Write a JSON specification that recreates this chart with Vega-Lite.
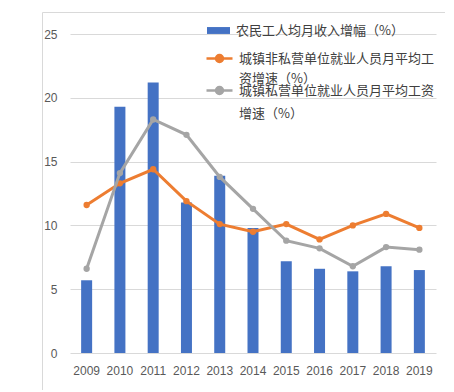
{
  "$schema": "https://vega.github.io/schema/vega-lite/v6.json",
  "width": 403,
  "height": 378,
  "autosize": "none",
  "padding": {"left": 42, "top": 12, "right": 0, "bottom": 0},
  "background": "white",
  "config": {"view": {"stroke": "#d9d9d9", "strokeWidth": 1}, "font": "Liberation Sans"},
  "data": {"values": [
    {"year": "2009", "series": "农民工人均月收入增幅（%）", "value": 5.7},
    {"year": "2010", "series": "农民工人均月收入增幅（%）", "value": 19.3},
    {"year": "2011", "series": "农民工人均月收入增幅（%）", "value": 21.2},
    {"year": "2012", "series": "农民工人均月收入增幅（%）", "value": 11.8},
    {"year": "2013", "series": "农民工人均月收入增幅（%）", "value": 13.9},
    {"year": "2014", "series": "农民工人均月收入增幅（%）", "value": 9.8},
    {"year": "2015", "series": "农民工人均月收入增幅（%）", "value": 7.2},
    {"year": "2016", "series": "农民工人均月收入增幅（%）", "value": 6.6},
    {"year": "2017", "series": "农民工人均月收入增幅（%）", "value": 6.4},
    {"year": "2018", "series": "农民工人均月收入增幅（%）", "value": 6.8},
    {"year": "2019", "series": "农民工人均月收入增幅（%）", "value": 6.5},
    {"year": "2009", "series": "城镇非私营单位就业人员月平均工资增速（%）", "value": 11.6},
    {"year": "2010", "series": "城镇非私营单位就业人员月平均工资增速（%）", "value": 13.3},
    {"year": "2011", "series": "城镇非私营单位就业人员月平均工资增速（%）", "value": 14.4},
    {"year": "2012", "series": "城镇非私营单位就业人员月平均工资增速（%）", "value": 11.9},
    {"year": "2013", "series": "城镇非私营单位就业人员月平均工资增速（%）", "value": 10.1},
    {"year": "2014", "series": "城镇非私营单位就业人员月平均工资增速（%）", "value": 9.5},
    {"year": "2015", "series": "城镇非私营单位就业人员月平均工资增速（%）", "value": 10.1},
    {"year": "2016", "series": "城镇非私营单位就业人员月平均工资增速（%）", "value": 8.9},
    {"year": "2017", "series": "城镇非私营单位就业人员月平均工资增速（%）", "value": 10.0},
    {"year": "2018", "series": "城镇非私营单位就业人员月平均工资增速（%）", "value": 10.9},
    {"year": "2019", "series": "城镇非私营单位就业人员月平均工资增速（%）", "value": 9.8},
    {"year": "2009", "series": "城镇私营单位就业人员月平均工资增速（%）", "value": 6.6},
    {"year": "2010", "series": "城镇私营单位就业人员月平均工资增速（%）", "value": 14.1},
    {"year": "2011", "series": "城镇私营单位就业人员月平均工资增速（%）", "value": 18.3},
    {"year": "2012", "series": "城镇私营单位就业人员月平均工资增速（%）", "value": 17.1},
    {"year": "2013", "series": "城镇私营单位就业人员月平均工资增速（%）", "value": 13.8},
    {"year": "2014", "series": "城镇私营单位就业人员月平均工资增速（%）", "value": 11.3},
    {"year": "2015", "series": "城镇私营单位就业人员月平均工资增速（%）", "value": 8.8},
    {"year": "2016", "series": "城镇私营单位就业人员月平均工资增速（%）", "value": 8.2},
    {"year": "2017", "series": "城镇私营单位就业人员月平均工资增速（%）", "value": 6.8},
    {"year": "2018", "series": "城镇私营单位就业人员月平均工资增速（%）", "value": 8.3},
    {"year": "2019", "series": "城镇私营单位就业人员月平均工资增速（%）", "value": 8.1}
  ]},
  "encoding": {
    "x": {
      "field": "year", "type": "ordinal",
      "scale": {"range": [28, 394], "paddingInner": 0, "paddingOuter": 0},
      "axis": {"title": null, "offset": -37, "domain": false, "ticks": false, "labelAngle": 0, "labelPadding": 12, "labelFontSize": 12, "labelColor": "#595959", "grid": false}
    },
    "y": {
      "field": "value", "type": "quantitative",
      "scale": {"domain": [0, 25], "range": [341, 22], "nice": false},
      "axis": {"title": null, "offset": -26, "domain": false, "ticks": false, "values": [0, 5, 10, 15, 20, 25], "labelPadding": 11, "labelFontSize": 12, "labelColor": "#595959", "grid": true, "gridColor": "#d9d9d9", "gridWidth": 1}
    }
  },
  "layer": [
    {
      "transform": [{"filter": "datum.series === '农民工人均月收入增幅（%）'"}],
      "mark": {"type": "bar", "size": 11},
      "encoding": {
        "fill": {
          "field": "series", "type": "nominal",
          "scale": {"domain": ["农民工人均月收入增幅（%）"], "range": ["#4472C4"]},
          "legend": {"orient": "none", "legendX": 165, "legendY": 7, "title": null, "padding": 0,
            "symbolType": "M-1,-0.3H1V0.3H-1Z", "symbolSize": 529, "symbolStrokeWidth": 0,
            "labelFont": "Noto Sans CJK SC", "labelFontSize": 13, "labelColor": "#404040", "labelOffset": 6, "labelLimit": 400}
        }
      }
    },
    {
      "transform": [{"filter": "datum.series === '城镇非私营单位就业人员月平均工资增速（%）'"}],
      "mark": {"type": "line", "strokeWidth": 3},
      "encoding": {
        "color": {
          "field": "series", "type": "nominal",
          "scale": {"domain": ["城镇非私营单位就业人员月平均工资增速（%）"], "range": ["#ED7D31"]},
          "legend": {"orient": "none", "legendX": 163, "legendY": 32, "title": null, "padding": 0,
            "symbolType": "M-1,0H1M0.27,0A0.27,0.27 0 1,1 -0.27,0A0.27,0.27 0 1,1 0.27,0", "symbolSize": 676, "symbolStrokeWidth": 2.5,
            "labelFont": "Noto Sans CJK SC", "labelFontSize": 13, "labelColor": "#404040", "labelOffset": 5, "labelLimit": 400,
            "labelExpr": "['城镇非私营单位就业人员月平均工', '资增速（%）']",
            "encode": {
              "symbols": {"update": {"fill": {"scale": "color", "field": "value"}, "stroke": {"scale": "color", "field": "value"}}},
              "labels": {"update": {"lineHeight": {"value": 20}}}
            }}
        }
      }
    },
    {
      "transform": [{"filter": "datum.series === '城镇非私营单位就业人员月平均工资增速（%）'"}],
      "mark": {"type": "point", "filled": true, "size": 40, "opacity": 1, "color": "#ED7D31"}
    },
    {
      "transform": [{"filter": "datum.series === '城镇私营单位就业人员月平均工资增速（%）'"}],
      "mark": {"type": "line", "strokeWidth": 3},
      "encoding": {
        "stroke": {
          "field": "series", "type": "nominal",
          "scale": {"domain": ["城镇私营单位就业人员月平均工资增速（%）"], "range": ["#A5A5A5"]},
          "legend": {"orient": "none", "legendX": 163, "legendY": 64, "title": null, "padding": 0,
            "symbolType": "M-1,0H1M0.27,0A0.27,0.27 0 1,1 -0.27,0A0.27,0.27 0 1,1 0.27,0", "symbolSize": 676, "symbolStrokeWidth": 2.5,
            "labelFont": "Noto Sans CJK SC", "labelFontSize": 13, "labelColor": "#404040", "labelOffset": 5, "labelLimit": 400,
            "labelExpr": "['城镇私营单位就业人员月平均工资', '增速（%）']",
            "encode": {
              "symbols": {"update": {"fill": {"scale": "stroke", "field": "value"}, "stroke": {"scale": "stroke", "field": "value"}}},
              "labels": {"update": {"lineHeight": {"value": 23}}}
            }}
        }
      }
    },
    {
      "transform": [{"filter": "datum.series === '城镇私营单位就业人员月平均工资增速（%）'"}],
      "mark": {"type": "point", "filled": true, "size": 40, "opacity": 1, "color": "#A5A5A5"}
    }
  ]
}
